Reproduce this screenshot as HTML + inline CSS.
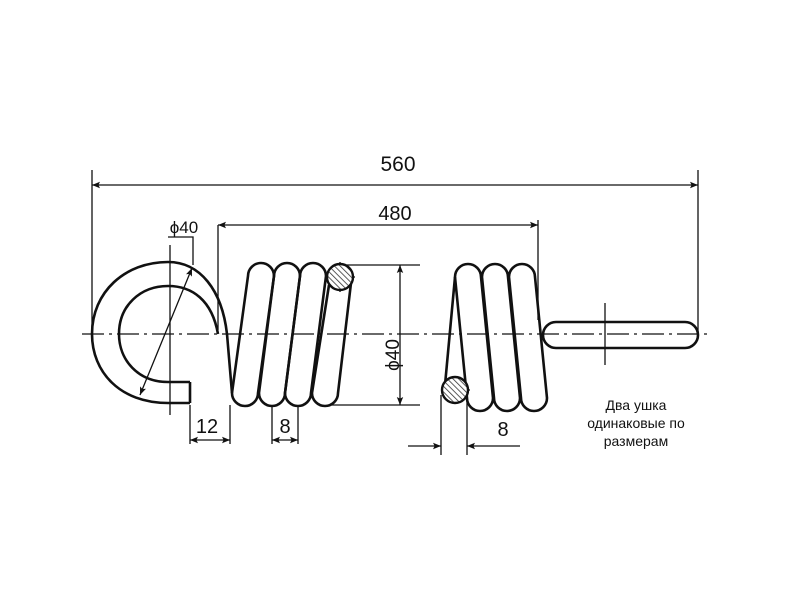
<!DOCTYPE html><html><head><style>body{margin:0;background:#fff}svg{display:block}text{font-family:"Liberation Sans",sans-serif;fill:#111}</style></head><body>
<svg width="800" height="600" viewBox="0 0 800 600" xmlns="http://www.w3.org/2000/svg">
<defs>
<marker id="a" viewBox="0 0 10 10" refX="10" refY="5" markerWidth="15" markerHeight="8" orient="auto-start-reverse" markerUnits="userSpaceOnUse"><path d="M0,1 L10,5 L0,9 L2,5 Z" fill="#111"/></marker>
<pattern id="h" width="4" height="4" patternUnits="userSpaceOnUse" patternTransform="rotate(-45)"><rect width="4" height="4" fill="#fff"/><line x1="0" y1="0" x2="0" y2="4" stroke="#333" stroke-width="1.6"/></pattern>
</defs>
<g stroke="#111" fill="none" stroke-width="1.3">
<path d="M82,334 H712" stroke-dasharray="22,5,3,5"/>
<path d="M170,245 V415 M605,303 V365 M327,277 H355 M340,262 V292 M442,390 H470 M455,376 V404"/>
<path d="M92,170 V334 M698,170 V334 M218,225 V330 M538,220 V320"/>
<path d="M92,185 H698" marker-start="url(#a)" marker-end="url(#a)"/>
<path d="M218,225 H538" marker-start="url(#a)" marker-end="url(#a)"/>
<path d="M340,265 H420 M330,405 H420"/>
<path d="M400,265 V405" marker-start="url(#a)" marker-end="url(#a)"/>
<path d="M168,237 H193 V265"/>
<path d="M192,268 L140,395" marker-start="url(#a)" marker-end="url(#a)"/>
<path d="M190,405 V444 M230,405 V444 M272,405 V444 M298,405 V444 M441,395 V455 M467,395 V455"/>
<path d="M190,440 H230" marker-start="url(#a)" marker-end="url(#a)"/>
<path d="M272,440 H298" marker-start="url(#a)" marker-end="url(#a)"/>
<path d="M408,446 H441" marker-end="url(#a)"/>
<path d="M520,446 H467" marker-end="url(#a)"/>
</g>
<g stroke="#111" fill="none" stroke-width="2.6" stroke-linejoin="round">
<path d="M190,403 H168 C120,403 92,372 92,334 C92,292 125,262 168,262 C200,262 222,290 227,334 L232,393"/>
<path d="M190,382 H168 C138,382 119,360 119,334 C119,306 140,286 168,286 C192,286 212,300 218,334"/>
<path d="M190,382 V403"/>
<path d="M248,276 A13,13 0 0 1 274,276 L258,393 A13,13 0 0 1 232,393 Z"/>
<path d="M274,276 A13,13 0 0 1 300,276 L285,393 A13,13 0 0 1 259,393 Z"/>
<path d="M300,276 A13,13 0 0 1 326,276 L311,393 A13,13 0 0 1 285,393 Z"/>
<path d="M329,285 L312,393 A13,13 0 0 0 338,393 L351,283"/>
<path d="M455,277 A13,13 0 0 1 481,277 L493,398 A13,13 0 0 1 467,398 Z"/>
<path d="M482,277 A13,13 0 0 1 508,277 L520,398 A13,13 0 0 1 494,398 Z"/>
<path d="M509,277 A13,13 0 0 1 535,277 L547,398 A13,13 0 0 1 521,398 Z"/>
<path d="M445,385 L455,277"/>
<rect x="543" y="322" width="155" height="26" rx="13"/>
</g>
<circle cx="340" cy="277" r="13" fill="url(#h)" stroke="#111" stroke-width="2.4"/>
<circle cx="455" cy="390" r="13" fill="url(#h)" stroke="#111" stroke-width="2.4"/>
<text x="398" y="171" font-size="21" text-anchor="middle">560</text>
<text x="395" y="220" font-size="20" text-anchor="middle">480</text>
<text x="184" y="233" font-size="17" text-anchor="middle">ϕ40</text>
<text x="393" y="355" font-size="19" text-anchor="middle" transform="rotate(-90 393 355)" dy="6">ϕ40</text>
<text x="207" y="433" font-size="20" text-anchor="middle">12</text>
<text x="285" y="433" font-size="20" text-anchor="middle">8</text>
<text x="503" y="436" font-size="20" text-anchor="middle">8</text>
<text x="636" y="410" font-size="14" text-anchor="middle">Два ушка</text>
<text x="636" y="428" font-size="14" text-anchor="middle">одинаковые по</text>
<text x="636" y="446" font-size="14" text-anchor="middle">размерам</text>
</svg></body></html>
